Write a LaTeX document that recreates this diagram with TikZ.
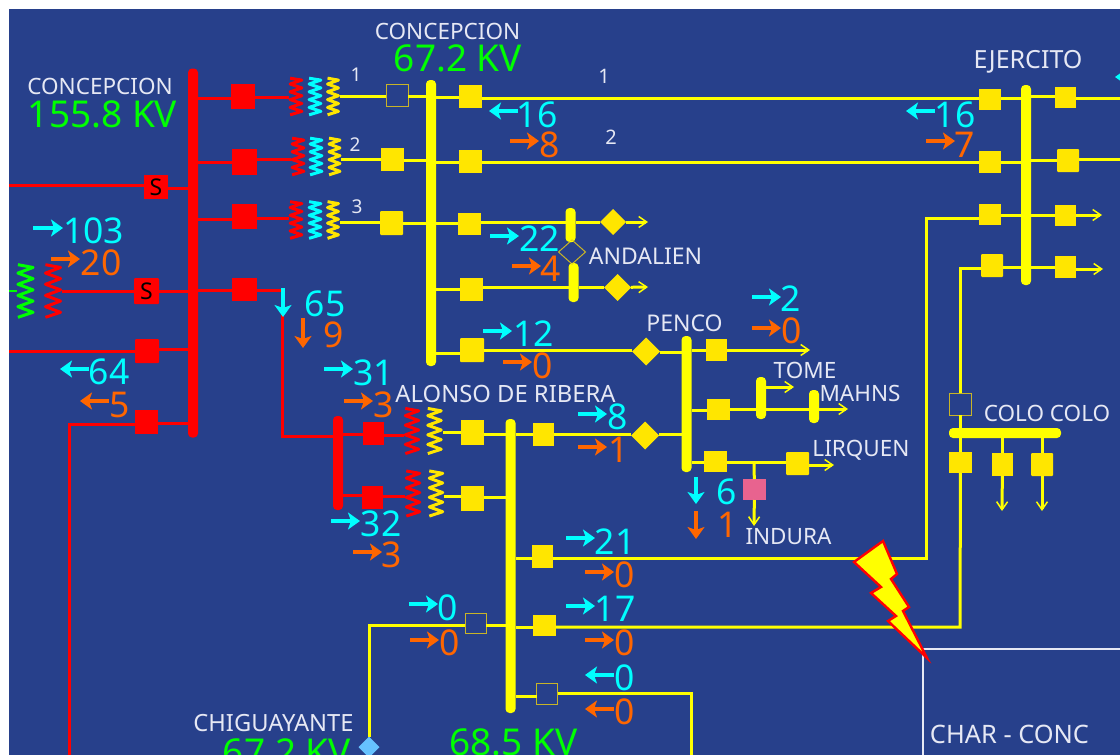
\documentclass[tikz,border=0pt]{standalone}
\usepackage{fontspec}
\setmainfont{Noto Sans}
\usetikzlibrary{arrows.meta,shapes.geometric}
\definecolor{bg}{HTML}{27408B}
\definecolor{rd}{HTML}{FF0000}
\definecolor{yl}{HTML}{FFFF00}
\definecolor{gd}{HTML}{FFE600}
\definecolor{hl}{HTML}{C8B428}
\definecolor{cy}{HTML}{00FFFF}
\definecolor{og}{HTML}{FF6600}
\definecolor{gn}{HTML}{00FF00}
\definecolor{wt}{HTML}{E6E8F4}
\definecolor{pk}{HTML}{E8638F}
\definecolor{lb}{HTML}{66C2FF}
\tikzset{
  wh/.style n args={2}{minimum width=#1pt,minimum height=#2pt},
  base/.style={inner sep=0pt,outer sep=0pt},
  rbox/.style={base,rectangle,fill=rd},
  ybox/.style={base,rectangle,fill=gd},
  hbox/.style={base,rectangle,draw=hl,line width=1pt},
  rbus/.style={base,rectangle,fill=rd,rounded corners=4pt},
  ybus/.style={base,rectangle,fill=yl,rounded corners=4pt},
  ydia/.style={base,diamond,fill=gd,minimum width=#1pt,minimum height=#1pt},
  ydia/.default=28,
  rw/.style={draw=rd,line width=3pt,line join=miter},
  yw/.style={draw=yl,line width=3pt,line join=miter},
  fd/.style={yw,-{Straight Barb[length=8pt,width=11pt,line width=1.5pt]}},
  flowa/.style={line width=3.4pt,-{Stealth[length=12pt,width=17pt,inset=3pt]}},
  fnum/.style={base,text depth=0pt,font=\fontsize{35.5}{36}\selectfont},
  lab/.style={base,text=wt,text depth=0pt,font=\fontsize{22.5}{24}\selectfont},
  kv/.style={base,text=gn,text depth=0pt,font=\fontsize{37}{38}\selectfont},
  sm/.style={base,text=wt,text depth=0pt,font=\fontsize{19}{20}\selectfont},
  coilw/.style={line width=3pt,line join=round},
}
% #1 name, #2 x, #3 y, #4 width, #5 height, #6 colour
\newcommand{\coil}[6]{%
  \coordinate (#1l) at ({#2-#4/2},#3);
  \coordinate (#1r) at ({#2+#4/2},#3);
  \begin{scope}[shift={(#2,#3)},xscale=#4,yscale=#5]
    \draw[coilw,draw=#6] (-.42,-.47)--(.42,-.42)--(-.42,-.32)--(.42,-.22)--(-.42,-.12)--(.42,-.02)--(-.42,.08)--(.42,.18)--(-.42,.28)--(.42,.38)--(-.42,.47);
  \end{scope}}
% left to right horizontal wire between node edges at height #4
\newcommand{\hw}[4][yw]{\draw[#1] (#2.east |- 0,#4) -- (#3.west |- 0,#4);}
% flow: name, colour, start, end, text, text centre
\newcommand{\flow}[6]{%
  \coordinate (#1a) at (#3);
  \coordinate (#1b) at (#4);
  \draw[flowa,draw=#2,#2] (#1a) -- (#1b);
  \node[fnum,text=#2] (#1t) at (#6) {#5};}
\begin{document}
\begin{tikzpicture}[x=1pt,y=-1pt]
\useasboundingbox (0,0) rectangle (1120,755);
\clip (0,0) rectangle (1120,755);
\fill[white] (0,0) rectangle (1120,755);
\fill[bg] (9,9) rectangle (1120,755);

% ---------- labels
\node[lab] (lConA) at (100,86) {CONCEPCION};
\node[kv] (kvA) at (102.5,114) {155.8 KV};
\node[lab] (lConB) at (447.5,31) {CONCEPCION};
\node[kv] (kvB) at (458,58) {67.2 KV};
\node[lab,font=\fontsize{25}{26}\selectfont] (lEj) at (1028,59) {EJERCITO};
\node[lab,font=\fontsize{23}{24}\selectfont] (lAnd) at (645.5,256) {ANDALIEN};
\node[lab,font=\fontsize{23}{24}\selectfont] (lPen) at (684.5,323) {PENCO};
\node[lab] (lTom) at (805,370) {TOME};
\node[lab] (lMah) at (860,393) {MAHNS};
\node[lab,font=\fontsize{23.8}{24}\selectfont] (lAlo) at (505.5,394) {ALONSO DE RIBERA};
\node[lab] (lCol) at (1047,413) {COLO COLO};
\node[lab] (lLir) at (861,448) {LIRQUEN};
\node[lab] (lInd) at (788.5,536) {INDURA};
\node[lab,font=\fontsize{23.7}{24}\selectfont] (lChi) at (273.5,723) {CHIGUAYANTE};
\node[kv] (kvC) at (287,752) {67.2 KV};
\node[kv] (kvD) at (513.5,742) {68.5 KV};
\node[lab,font=\fontsize{25.4}{26}\selectfont] (lCha) at (1009.5,734) {CHAR - CONC};
\node[sm] (n1) at (356,75) {1};
\node[sm] (n2) at (355,145) {2};
\node[sm] (n3) at (357,207) {3};
\node[sm,font=\fontsize{20}{20}\selectfont] (m1) at (604,76) {1};
\node[sm,font=\fontsize{20}{20}\selectfont] (m2) at (611,137) {2};

% ---------- buses
\node[rbus,wh={10}{369}] (busA) at (193,253) {};
\node[rbus,wh={10}{94}] (busR) at (338,463) {};
\node[ybus,wh={10}{286}] (busB) at (431,223) {};
\node[ybus,wh={10}{294}] (busC) at (510.5,566) {};
\node[ybus,wh={10}{136}] (busP) at (686.5,404) {};
\node[ybus,wh={10}{200}] (busE) at (1026,185) {};
\node[ybus,wh={10}{34}] (busAn1) at (570.5,225) {};
\node[ybus,wh={10}{39}] (busAn2) at (573.5,282.5) {};
\node[ybus,wh={10}{42}] (busT) at (761,398) {};
\node[ybus,wh={10}{33}] (busM) at (814,406.5) {};
\node[ybus,wh={112}{10}] (busCC) at (1005,433) {};

% ---------- red breakers
\node[rbox,wh={24}{25}] (r1) at (243,96.5) {};
\node[rbox,wh={25}{26}] (r2) at (244.5,162) {};
\node[rbox,wh={25}{25}] (r3) at (244.5,216.5) {};
\node[rbox,wh={25}{23}] (r4) at (244.5,289.5) {};
\node[rbox,wh={24}{24},text=black,font=\fontsize{23}{24}\selectfont] (s1) at (156,187) {S};
\node[rbox,wh={25}{26},rounded corners=1pt,text=black,font=\fontsize{23}{24}\selectfont] (s2) at (146.5,291) {S};
\node[rbox,wh={24}{24},rounded corners=1pt] (r5) at (147,351) {};
\node[rbox,wh={23}{24}] (r6) at (146.5,422) {};
\node[rbox,wh={21}{23}] (r7) at (373.5,433.5) {};
\node[rbox,wh={21}{23}] (r8) at (372,497.5) {};

% ---------- yellow breakers
\node[hbox,wh={22}{22}] (y1) at (397,95) {};
\node[ybox,wh={23}{23}] (y2) at (392.5,159.5) {};
\node[ybox,wh={23}{24},rounded corners=1pt] (y3) at (391.5,223) {};
\node[ybox,wh={23}{23}] (c1) at (470.5,96.5) {};
\node[ybox,wh={23}{23}] (c2) at (470.5,161.5) {};
\node[ybox,wh={23}{22}] (c3) at (469.5,224) {};
\node[ybox,wh={23}{23}] (c4) at (471.5,289.5) {};
\node[ybox,wh={24}{24},rounded corners=1pt] (c5) at (472,350) {};
\node[ydia=26] (dA1) at (613,222) {};
\node[ydia=27] (dA2) at (617.5,287.5) {};
\node[base,diamond,draw=hl,line width=1pt,minimum width=27pt,minimum height=24pt] (dA3) at (572,252) {};
\node[ydia=28] (dP1) at (646,351.5) {};
\node[ydia=28] (dP2) at (645,435.5) {};
\node[ybox,wh={21}{22}] (p1) at (716.5,350) {};
\node[ybox,wh={23}{21}] (p2) at (718.5,409.5) {};
\node[ybox,wh={23}{21}] (p3) at (715.5,461.5) {};
\node[ybox,wh={23}{23},rounded corners=1pt] (p4) at (797.5,463.5) {};
\node[base,rectangle,fill=pk,wh={23}{21}] (pk1) at (754.5,489.5) {};
\node[ybox,wh={23}{25}] (a1) at (472.5,432.5) {};
\node[ybox,wh={21}{23}] (a2) at (543.5,434.5) {};
\node[ybox,wh={23}{25}] (a3) at (472.5,498.5) {};
\node[ybox,wh={21}{23}] (a4) at (542,556.5) {};
\node[ybox,wh={23}{21}] (a5) at (544,625) {};
\node[hbox,wh={21}{20}] (a6) at (475.5,623) {};
\node[hbox,wh={21}{21}] (a7) at (547,693.5) {};
\node[base,diamond,fill=lb,minimum width=21pt,minimum height=21pt] (dC) at (369,747) {};
\node[ybox,wh={22}{21}] (e1) at (990,99.5) {};
\node[ybox,wh={22}{22}] (e2) at (990,162) {};
\node[ybox,wh={22}{21}] (e3) at (990,214.5) {};
\node[ybox,wh={22}{23},rounded corners=1pt] (e4) at (992,265.5) {};
\node[ybox,wh={21}{21}] (e5) at (1065.5,97.5) {};
\node[ybox,wh={22}{23},rounded corners=1pt] (e6) at (1068,160.5) {};
\node[ybox,wh={21}{21}] (e7) at (1065.5,215.5) {};
\node[ybox,wh={21}{22}] (e8) at (1065.5,267) {};
\node[hbox,wh={22}{22}] (k1) at (960,404) {};
\node[ybox,wh={23}{21}] (k2) at (960.5,462.5) {};
\node[ybox,wh={21}{23}] (k3) at (1002.5,464.5) {};
\node[ybox,wh={22}{23},rounded corners=1pt] (k4) at (1042,464.5) {};

% ---------- transformers
\coil{t1a}{296}{96.5}{14}{39}{rd}
\coil{t1b}{315}{96.5}{14}{39}{cy}
\coil{t1c}{333}{96.5}{13}{39}{gd}
\coil{t2a}{298}{156.5}{14}{39}{rd}
\coil{t2b}{316}{156.5}{14}{39}{cy}
\coil{t2c}{334.5}{156.5}{13}{39}{gd}
\coil{t3a}{296}{220}{14}{39}{rd}
\coil{t3b}{315}{220}{14}{39}{cy}
\coil{t3c}{333}{220}{13}{39}{gd}
\coil{t4a}{25.5}{291}{18}{56}{gn}
\coil{t4b}{53}{291}{18}{56}{rd}
\coil{t5a}{412}{431}{16}{48}{rd}
\coil{t5b}{434.5}{431}{16}{48}{gd}
\coil{t6a}{413}{493.5}{16}{48}{rd}
\coil{t6b}{436}{493.5}{16}{48}{gd}

% ---------- free-end points
\coordinate (edgeS) at (9,185);
\coordinate (edgeR) at (9,351);
\coordinate (edgeG) at (9,291);
\coordinate (rC1) at (69,424);
\coordinate (rC2) at (69,755);
\coordinate (rD1) at (282,290);
\coordinate (rD2) at (282,436);
\coordinate (eR1) at (1120,98);
\coordinate (eR2) at (1120,159);
\coordinate (f1) at (648,222);
\coordinate (f2) at (648,287);
\coordinate (f3) at (810,350);
\coordinate (f4) at (794,387);
\coordinate (f5) at (848,409);
\coordinate (f6) at (834,465);
\coordinate (f7) at (754,526);
\coordinate (f8) at (1102,215);
\coordinate (f9) at (1103,269);
\coordinate (f10) at (1002,511);
\coordinate (f11) at (1042,511);
\coordinate (j1) at (926,218);
\coordinate (j2) at (926,558);
\coordinate (j3) at (960,268);
\coordinate (j4) at (960,627);
\coordinate (j5) at (369,625);
\coordinate (j6) at (691,693);
\coordinate (j7) at (691,755);
\coordinate (j8) at (754,462);

% ---------- red wires
\hw[rw]{busA}{r1}{98.5}
\hw[rw]{busA}{r2}{162}
\hw[rw]{busA}{r3}{219}
\hw[rw]{busA}{r4}{290}
\draw[rw] (s1.east |- 0,188) -- (busA.west |- 0,188);
\draw[rw] (s2.east |- 0,291) -- (busA.west |- 0,291);
\draw[rw] (r5.east |- 0,349) -- (busA.west |- 0,349);
\draw[rw] (r6.east |- 0,423) -- (busA.west |- 0,423);
\draw[rw] (edgeS) -- (s1.west |- edgeS);
\draw[rw] (edgeR) -- (r5.west |- edgeR);
\draw[rw] (t4br) -- (s2.west |- t4br);
\draw[coilw,draw=gn,line width=2pt] (edgeG) -- (t4al);
\draw[rw] (r6.west |- rC1) -- (rC1) -- (rC2);
\draw[rw] (r1.east |- 0,97.5) -- (t1al |- 0,97.5);
\draw[rw] (r2.east |- 0,159) -- (t2al |- 0,159);
\draw[rw] (r3.east |- 0,218) -- (t3al |- 0,218);
\draw[rw] (r4.east |- rD1) -- (rD1) -- (rD2) -- (busR.west |- rD2);
\draw[rw] (busR.east |- 0,434) -- (r7.west |- 0,434);
\draw[rw] (busR.east |- 0,495) -- (r8.west |- 0,495);
\draw[rw] (r7.east |- 0,435) -- (t5al |- 0,435);
\draw[rw] (r8.east |- 0,496) -- (t6al |- 0,496);

% ---------- yellow wires
\draw[yw] (t1cr |- 0,96) -- (y1.west |- 0,96);
\draw[yw] (t2cr |- 0,159) -- (y2.west |- 0,159);
\draw[yw] (t3cr |- 0,222) -- (y3.west |- 0,222);
\hw{y1}{busB}{96}
\hw{y2}{busB}{160}
\hw{y3}{busB}{223}
\hw{busB}{c1}{97}
\hw{busB}{c2}{162}
\hw{busB}{c3}{223}
\hw{busB}{c4}{289}
\hw{busB}{c5}{353}
\hw{c1}{e1}{98}
\hw{c2}{e2}{162}
\hw{c3}{busAn1}{222}
\hw{busAn1}{dA1}{222}
\draw[fd] (dA1) -- (f1);
\hw{c4}{busAn2}{287}
\hw{busAn2}{dA2}{287}
\draw[fd] (dA2) -- (f2);
\draw[yw] (busAn1) -- (dA3);
\draw[yw] (dA3) -- (busAn2);
\hw{c5}{dP1}{350}
\hw{dP1}{busP}{352}
\hw{busP}{p1}{350}
\draw[fd] (p1.east |- f3) -- (f3);
\hw{busP}{p2}{410}
\hw{p2}{busT}{409}
\hw{busT}{busM}{409}
\draw[fd] (busM.east |- f5) -- (f5);
\draw[fd] (busT.east |- f4) -- (f4);
\hw{busP}{p3}{462}
\hw{p3}{p4}{462}
\draw[fd] (p4.east |- f6) -- (f6);
\draw[yw] (j8) -- (pk1);
\draw[fd] (pk1) -- (f7);
\draw[yw] (t5br |- 0,432) -- (a1.west |- 0,432);
\draw[yw] (t6br |- 0,496) -- (a3.west |- 0,496);
\hw{a1}{busC}{434}
\hw{a3}{busC}{497}
\hw{busC}{a2}{434}
\hw{a2}{dP2}{434}
\hw{dP2}{busP}{434}
\hw{busC}{a4}{558}
\hw{busC}{a5}{627}
\hw{a6}{busC}{625}
\hw{busC}{a7}{696}
\draw[yw] (a6.west |- j5) -- (j5) -- (dC);
\draw[yw] (a7.east |- j6) -- (j6) -- (j7);
\draw[yw] (a4.east |- j2) -- (j2) -- (j1) -- (e3.west |- j1);
\draw[yw] (a5.east |- j4) -- (j4) -- (k2);
\draw[yw] (k2) -- (busCC.south -| k2);
\draw[yw] (busCC.north -| k1) -- (k1);
\draw[yw] (k1) -- (j3) -- (e4.west |- j3);
\hw{e1}{busE}{98}
\hw{e2}{busE}{162}
\hw{e3}{busE}{215}
\hw{e4}{busE}{267}
\hw{busE}{e5}{96}
\hw{busE}{e6}{160}
\hw{busE}{e7}{215}
\hw{busE}{e8}{267}
\draw[yw] (e5.east |- eR1) -- (eR1);
\draw[yw] (e6.east |- eR2) -- (eR2);
\draw[fd] (e7.east |- f8) -- (f8);
\draw[fd] (e8.east |- f9) -- (f9);
\draw[yw] (busCC.south -| k3) -- (k3);
\draw[yw] (busCC.south -| k4) -- (k4);
\draw[fd] (k3) -- (f10);
\draw[fd] (k4) -- (f11);

% ---------- flows
\flow{fa}{cy}{33,228}{63,228}{103}{93.5,231}
\flow{fb}{og}{51,259}{80,259}{20}{101,263}
\flow{fc}{cy}{283,288}{283,317}{65}{325,304}
\flow{fd}{og}{303,318}{303,348}{9}{334,335}
\flow{fe}{cy}{89,369}{60,369}{64}{109,372}
\flow{ff}{og}{109,401}{80,401}{5}{120,405}
\flow{fg}{cy}{324,369}{353,369}{31}{373.5,373}
\flow{fh}{og}{344,401}{373,401}{3}{384,405}
\flow{fi}{cy}{518,111}{489,111}{16}{537,115}
\flow{fj}{og}{510,141}{539,141}{8}{550,145}
\flow{fk}{cy}{935,111}{906,111}{16}{955,115}
\flow{fl}{og}{926,141}{955,141}{7}{965,145}
\flow{fm}{cy}{490,236}{519,236}{22}{539.5,239}
\flow{fn}{og}{512,266}{541,266}{4}{551,269}
\flow{fo}{cy}{483,331}{512,331}{12}{533.5,334}
\flow{fp}{og}{503,362}{532,362}{0}{542.5,366}
\flow{fq}{cy}{752,297}{781,297}{2}{791,299}
\flow{fr}{og}{752,328}{781,328}{0}{792,331}
\flow{fs}{cy}{578,414}{607,414}{8}{618,417}
\flow{ft}{og}{578,447}{607,447}{1}{619,450}
\flow{fu}{cy}{696,477}{696,504}{6}{727,492}
\flow{fv}{og}{696,511}{696,539}{1}{728,525}
\flow{fw}{cy}{331,521}{360,521}{32}{381,524}
\flow{fx}{og}{353,552}{382,552}{3}{392,555}
\flow{fy}{cy}{566,538}{595,538}{21}{615,542}
\flow{fz}{og}{585,572}{614,572}{0}{625,575}
\flow{ga}{cy}{566,606}{595,606}{17}{615,609}
\flow{gb}{og}{585,640}{614,640}{0}{625,643}
\flow{gc}{cy}{614,675}{585,675}{0}{625,678}
\flow{gd}{og}{614,709}{585,709}{0}{625,712}
\flow{ge}{cy}{409,604}{438,604}{0}{448,608}
\flow{gf}{og}{410,640}{439,640}{0}{450,643}
\coordinate (ggb) at (1115,77);
\coordinate (gga) at (1140,77);
\draw[flowa,draw=cy,cy] (gga) -- (ggb);

% ---------- CHAR - CONC panel and fault mark
\draw[wt,line width=1.5pt] (1120,649) -- (923,649) -- (923,755);
\draw[draw=rd,fill=yl,line width=2.4pt,line join=miter,miter limit=10]
  (883,541) -- (897,574) -- (891,579) -- (909,607) -- (903,611) -- (927,658)
  -- (888,621) -- (896,616) -- (871,593) -- (881,587) -- (854,562) -- cycle;
\end{tikzpicture}
\end{document}
